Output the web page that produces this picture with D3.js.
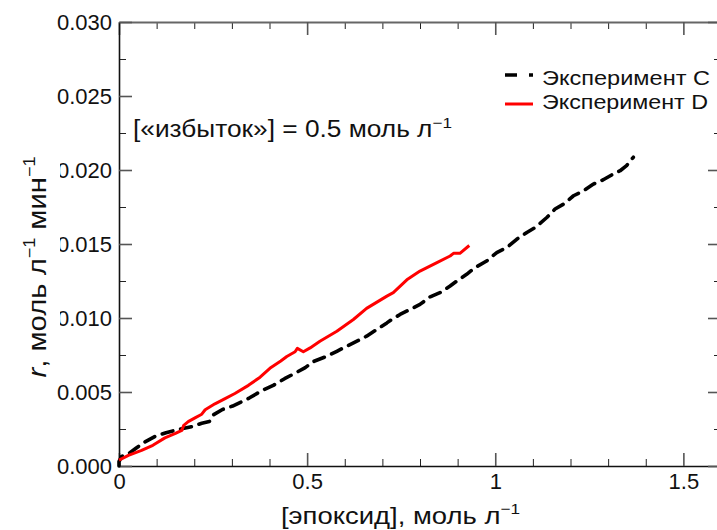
<!DOCTYPE html>
<html><head><meta charset="utf-8">
<script src="https://cdn.jsdelivr.net/npm/d3@7/dist/d3.min.js"></script>
<style>body{margin:0;background:#fff}svg{display:block}text{font-family:"Liberation Sans",Arial,sans-serif;fill:#111}</style>
</head><body><svg id="c" width="717" height="530"></svg>
<script>
// ---- data ----
const xTicksMajor = [0, 0.5, 1, 1.5];
const xTickLabels = ["0", "0.5", "1", "1.5"];
const yTicksMajor = [0, 0.005, 0.010, 0.015, 0.020, 0.025, 0.030];
const yTickLabels = ["0.000", "0.005", "0.010", "0.015", "0.020", "0.025", "0.030"];
const seriesNames = ["Эксперимент C", "Эксперимент D"];
const xC = [0,0,0.007,0.025,0.045,0.067,0.096,0.125,0.16,0.195,0.22,0.24,0.251,0.275,0.302,0.328,0.346,0.38,0.41,0.44,0.47,0.495,0.516,0.552,0.579,0.605,0.641,0.658,0.685,0.712,0.725,0.747,0.774,0.8,0.827,0.853,0.88,0.898,0.924,0.946,0.977,1.004,1.031,1.057,1.084,1.106,1.137,1.159,1.181,1.208,1.234,1.261,1.287,1.314,1.332,1.349,1.367];
const yC = [0,0.0003,0.00065,0.00082,0.0012,0.0016,0.002,0.00225,0.00248,0.00267,0.00289,0.003,0.00346,0.00382,0.00405,0.00436,0.00459,0.0051,0.00545,0.0059,0.0063,0.00665,0.00705,0.00741,0.00775,0.00809,0.00854,0.00877,0.00922,0.00967,0.0099,0.01024,0.01058,0.01092,0.01143,0.01171,0.01216,0.0125,0.01295,0.0134,0.01385,0.01442,0.01476,0.01532,0.01578,0.01611,0.01679,0.01736,0.01769,0.01826,0.01859,0.01905,0.01934,0.01973,0.01995,0.02029,0.02086];
const xD = [0,0.025,0.06,0.09,0.122,0.15,0.167,0.172,0.184,0.202,0.22,0.229,0.255,0.282,0.308,0.344,0.375,0.401,0.43,0.446,0.468,0.474,0.49,0.508,0.534,0.579,0.623,0.658,0.712,0.729,0.765,0.8,0.845,0.88,0.889,0.906,0.931];
const yD = [0.0004,0.00072,0.00105,0.0014,0.0019,0.0022,0.0024,0.00275,0.003,0.00325,0.0035,0.0038,0.0042,0.00455,0.0049,0.00545,0.006,0.0066,0.0071,0.0074,0.00772,0.00795,0.00772,0.00798,0.00843,0.00911,0.0099,0.01065,0.01148,0.01171,0.01258,0.01317,0.01374,0.01419,0.01437,0.01437,0.0149];

// ---- layout ----
const L = 119, R = 721, T = 22, B = 466;
const svg = d3.select("#c");
const x = d3.scaleLinear().domain([0, 1.6]).range([L, R]);
const y = d3.scaleLinear().domain([0, 0.03]).range([B, T]);

const xMinor = d3.range(1, 16).map(i => i / 10).filter(v => Math.abs(v * 2 - Math.round(v * 2)) > 1e-6);
const yMinor = d3.range(0, 6).map(i => 0.0025 + i * 0.005);

function minor(axisFn, scale, vals, tr) {
  const g = svg.append("g").attr("transform", tr)
    .call(axisFn(scale).tickValues(vals).tickSizeInner(-7).tickSizeOuter(0).tickFormat(""));
  g.select(".domain").remove();
  g.selectAll("line").attr("stroke", "#222").attr("stroke-width", 1);
}
minor(d3.axisBottom, x, xMinor, `translate(0,${B})`);
minor(d3.axisTop, x, xMinor, `translate(0,${T})`);
minor(d3.axisLeft, y, yMinor, `translate(${L},0)`);
minor(d3.axisRight, y, yMinor, `translate(${R},0)`);

const gB = svg.append("g").attr("transform", `translate(0,${B})`)
  .call(d3.axisBottom(x).tickValues(xTicksMajor).tickSizeInner(-13).tickSizeOuter(0).tickPadding(7)
    .tickFormat((d, i) => xTickLabels[i]));
const gT = svg.append("g").attr("transform", `translate(0,${T})`)
  .call(d3.axisTop(x).tickValues(xTicksMajor).tickSizeInner(-13).tickSizeOuter(0).tickFormat(""));
const gL = svg.append("g").attr("transform", `translate(${L},0)`)
  .call(d3.axisLeft(y).tickValues(yTicksMajor).tickSizeInner(-13).tickSizeOuter(0).tickPadding(7)
    .tickFormat((d, i) => yTickLabels[i]));
const gR = svg.append("g").attr("transform", `translate(${R},0)`)
  .call(d3.axisRight(y).tickValues(yTicksMajor).tickSizeInner(-13).tickSizeOuter(0).tickFormat(""));
[gB, gT, gL, gR].forEach(g => {
  g.selectAll("line").attr("stroke", "#555").attr("stroke-width", 1.6);
  g.selectAll("text").attr("font-size", 22).attr("font-family", "Liberation Sans, Arial").attr("fill", "#111");
});
gB.select(".domain").attr("stroke", "#111").attr("stroke-width", 1.6);
gL.select(".domain").attr("stroke", "#111").attr("stroke-width", 1.6);
gT.select(".domain").attr("stroke", "#666").attr("stroke-width", 2);
gR.select(".domain").attr("stroke", "#666").attr("stroke-width", 2);

// series
const line = d3.line().x(d => x(d[0])).y(d => y(d[1]));
const dataC = xC.map((v, i) => [v, yC[i]]);
const dataD = xD.map((v, i) => [v, yD[i]]);
svg.append("path").datum(dataC).attr("d", line).attr("fill", "none")
  .attr("stroke", "#000").attr("stroke-width", 3.6).attr("stroke-dasharray", "11,8")
  .attr("stroke-linecap", "round").attr("stroke-linejoin", "round");
svg.append("path").datum(dataD).attr("d", line).attr("fill", "none")
  .attr("stroke", "#f00").attr("stroke-width", 3).attr("stroke-linejoin", "round");

// white box behind y label (clips leading zeros as in reference)
svg.append("rect").attr("x", 0).attr("y", 106).attr("width", 60).attr("height", 274).attr("fill", "#fff");

// y label
const yl = svg.append("text").attr("transform", "translate(46,267) rotate(-90)")
  .attr("text-anchor", "middle").attr("font-size", 26).attr("textLength", 221).attr("lengthAdjust", "spacingAndGlyphs");
yl.append("tspan").attr("font-style", "italic").text("r");
yl.append("tspan").text(", моль л");
yl.append("tspan").attr("font-size", 16).attr("dy", -11).text("−1");
yl.append("tspan").attr("dy", 11).text(" мин");
yl.append("tspan").attr("font-size", 16).attr("dy", -11).text("−1");

// x label
const xl = svg.append("text").attr("x", 281).attr("y", 524).attr("font-size", 24)
  .attr("textLength", 239).attr("lengthAdjust", "spacingAndGlyphs");
xl.append("tspan").text("[эпоксид], моль л");
xl.append("tspan").attr("font-size", 15).attr("dy", -10).text("−1");

// annotation
const an = svg.append("text").attr("x", 133).attr("y", 137).attr("font-size", 23)
  .attr("textLength", 319).attr("lengthAdjust", "spacingAndGlyphs");
an.append("tspan").text("[«избыток»] = 0.5 моль л");
an.append("tspan").attr("font-size", 15).attr("dy", -9).text("−1");

// legend
svg.append("rect").attr("x", 500).attr("y", 64).attr("width", 217).attr("height", 52).attr("fill", "#fff");
const lg = svg.append("g");
const legY = [75, 104];
lg.append("line").attr("x1", 505).attr("x2", 533).attr("y1", legY[0]).attr("y2", legY[0])
  .attr("stroke", "#000").attr("stroke-width", 3.6).attr("stroke-dasharray", "12,12");
lg.append("line").attr("x1", 505).attr("x2", 533).attr("y1", legY[1]).attr("y2", legY[1])
  .attr("stroke", "#f00").attr("stroke-width", 3);
lg.append("text").attr("x", 542).attr("y", 85).attr("font-size", 21).attr("textLength", 168)
  .attr("lengthAdjust", "spacingAndGlyphs").text(seriesNames[0]);
lg.append("text").attr("x", 542).attr("y", 109).attr("font-size", 21).attr("textLength", 166)
  .attr("lengthAdjust", "spacingAndGlyphs").text(seriesNames[1]);
</script></body></html>
